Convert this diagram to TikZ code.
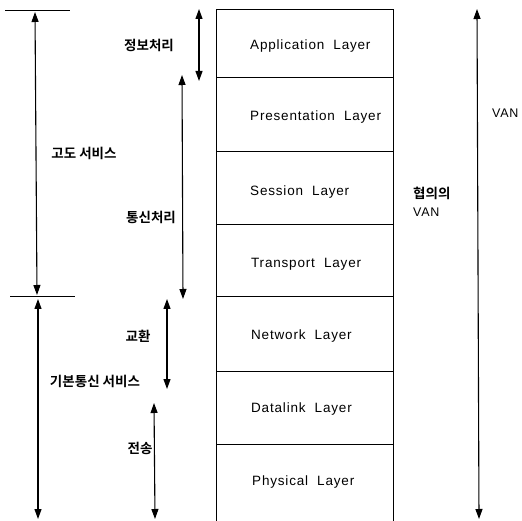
\documentclass[tikz,border=0pt]{standalone}
\usepackage{fontspec}
\setmainfont{Liberation Sans}[LetterSpace=6,WordSpace=2]
\newfontfamily\kr{Noto Sans CJK KR}[BoldFont=* Bold]
\usetikzlibrary{arrows.meta}
\begin{document}
\begin{tikzpicture}[x=1pt,y=-1pt,
  ln/.style={line width=1pt},
  dim/.style={line width=1.1pt,{Triangle[width=7pt,length=10pt]}-{Triangle[width=7pt,length=10pt]}},
  lay/.style={anchor=west,inner sep=0pt,font=\fontsize{13.5}{16}\selectfont},
  krl/.style={inner sep=0pt,font=\kr\bfseries\fontsize{13.5}{16}\selectfont},
  lat/.style={inner sep=0pt,font=\fontsize{12.5}{15}\selectfont}]
\useasboundingbox (0,0) rectangle (522,521);
% layer stack
\draw[ln] (216,521) -- (216,10) -- (393,10) -- (393,521);
\foreach \y in {78,152,225,297,371,444} \draw[ln] (216,\y) -- (393,\y);
\node[lay] (app) at (250,46) {Application Layer};
\node[lay] (pre) at (250,117) {Presentation Layer};
\node[lay] (ses) at (250,192) {Session Layer};
\node[lay] (tra) at (251,264) {Transport Layer};
\node[lay] (net) at (251,336) {Network Layer};
\node[lay] (dat) at (251,409) {Datalink Layer};
\node[lay] (phy) at (252,482) {Physical Layer};
% reference lines
\coordinate (l1a) at (5,11);  \coordinate (l1b) at (70,11);
\coordinate (l2a) at (10,297); \coordinate (l2b) at (75,297);
\draw[ln] (l1a) -- (l1b);
\draw[ln] (l2a) -- (l2b);
% arrow end points
\coordinate (g1) at (35,12);  \coordinate (g2) at (37,295);
\coordinate (b1) at (38,299); \coordinate (b2) at (38,519);
\coordinate (j1) at (199,9);  \coordinate (j2) at (199,81);
\coordinate (t1) at (182,75); \coordinate (t2) at (183,299);
\coordinate (k1) at (167,299); \coordinate (k2) at (167,389);
\coordinate (s1) at (154,403); \coordinate (s2) at (155,519);
\coordinate (v1) at (477,9);  \coordinate (v2) at (479,519);
\draw[dim] (g1) -- (g2);
\draw[dim] (b1) -- (b2);
\draw[dim] (j1) -- (j2);
\draw[dim] (t1) -- (t2);
\draw[dim] (k1) -- (k2);
\draw[dim] (s1) -- (s2);
\draw[dim] (v1) -- (v2);
% labels
\node[krl] (godo) at (84,153) {고도 서비스};
\node[krl] (gibon) at (95,381) {기본통신 서비스};
\node[krl] (jb) at (149,45) {정보처리};
\node[krl] (ts) at (151,217) {통신처리};
\node[krl] (gh) at (138,336) {교환};
\node[krl] (js) at (140,448) {전송};
\node[krl,anchor=west] (hy) at (413,193) {협의의};
\node[lat,anchor=west] (hv) at (413,212) {VAN};
\node[lat,anchor=west] (van) at (492,113) {VAN};
\end{tikzpicture}
\end{document}
